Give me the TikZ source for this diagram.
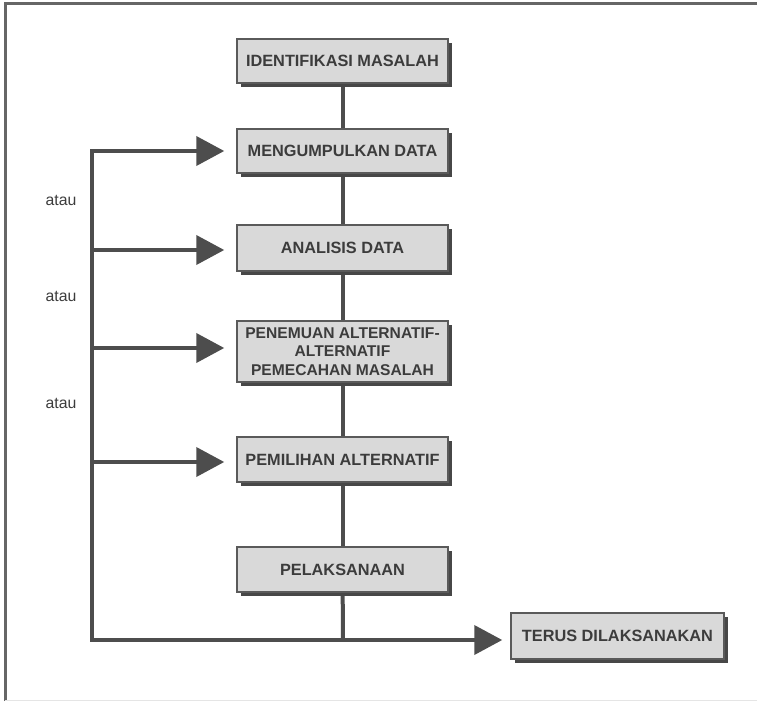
\documentclass[tikz,border=0pt]{standalone}
\usepackage{fontspec}
\setmainfont{Liberation Sans}
\usetikzlibrary{arrows.meta,shadows,backgrounds}
\definecolor{linec}{HTML}{4D4D4D}
\definecolor{boxfill}{HTML}{D9D9D9}
\definecolor{boxdraw}{HTML}{5A5A5A}
\definecolor{shadowc}{HTML}{474747}
\definecolor{txtc}{HTML}{3C3C3C}
\definecolor{framec}{HTML}{666666}
\tikzset{
  stepbox/.style={draw=boxdraw, line width=1.5pt, fill=boxfill, minimum width=211pt,
    minimum height=44pt, inner sep=2pt, align=center, text=txtc,
    font=\fontsize{16.3}{18.5}\selectfont\bfseries,
    drop shadow={shadow xshift=4pt, shadow yshift=-4pt, fill=shadowc, opacity=1}},
  conn/.style={draw=linec, line width=4pt},
  arr/.style={conn, -{Triangle[length=28pt,width=29pt]}},
  lbl/.style={text=txtc, font=\fontsize{15.8}{18}\selectfont, inner sep=0pt}
}
\begin{document}
\begin{tikzpicture}[x=1pt,y=-1pt]
\useasboundingbox (0,0) rectangle (757,701);
% frame
\draw[framec, line width=3pt] (5,701) -- (5,4) -- (757,4);
\draw[black!10, line width=1pt] (5,700) -- (757,700);
% boxes
\node[stepbox] (b1) at (342.5,61) {IDENTIFIKASI MASALAH};
\node[stepbox] (b2) at (342.5,151) {MENGUMPULKAN DATA};
\node[stepbox, minimum height=46pt] (b3) at (342.5,248) {ANALISIS DATA};
\node[stepbox, minimum height=61pt, font=\fontsize{15.6}{18.5}\selectfont\bfseries] (b4) at (342.5,351.5) {PENEMUAN ALTERNATIF-\\ALTERNATIF\\PEMECAHAN MASALAH};
\node[stepbox, minimum height=45pt] (b5) at (342.5,459.5) {PEMILIHAN ALTERNATIF};
\node[stepbox, minimum height=45pt] (b6) at (342.5,569.5) {PELAKSANAAN};
\node[stepbox, minimum width=213pt, minimum height=46pt] (b7) at (617.5,636) {TERUS DILAKSANAKAN};
% labels
\node[lbl] (l1) at (61,200) {atau};
\node[lbl] (l2) at (61,296) {atau};
\node[lbl] (l3) at (61,403) {atau};
% coordinates
\coordinate (top) at (92,151);
\coordinate (bl) at (92,640);
\coordinate (j) at (343,640);
\coordinate (a2) at (92,250);
\coordinate (a3) at (92,348);
\coordinate (a4) at (92,462);
\begin{scope}[on background layer]
% center spine
\draw[conn] (b1.center) -- (b2.center);
\draw[conn] (b2.center) -- (b3.center);
\draw[conn] (b3.center) -- (b4.center);
\draw[conn] (b4.center) -- (b5.center);
\draw[conn] (b5.center) -- (b6.center);
\draw[conn] (b6.center) -- (j);
\end{scope}
% left loop
\draw[conn, line cap=rect] (top) -- (bl);
\draw[arr] (top) -- ([xshift=-12pt]b2.west);
\draw[arr] (a2) -- ([xshift=-12pt]b3.west |- a2);
\draw[arr] (a3) -- ([xshift=-12pt]b4.west |- a3);
\draw[arr] (a4) -- ([xshift=-12pt]b5.west |- a4);
\draw[arr] (bl) -- ([xshift=-8pt]b7.west |- bl);
\end{tikzpicture}
\end{document}
